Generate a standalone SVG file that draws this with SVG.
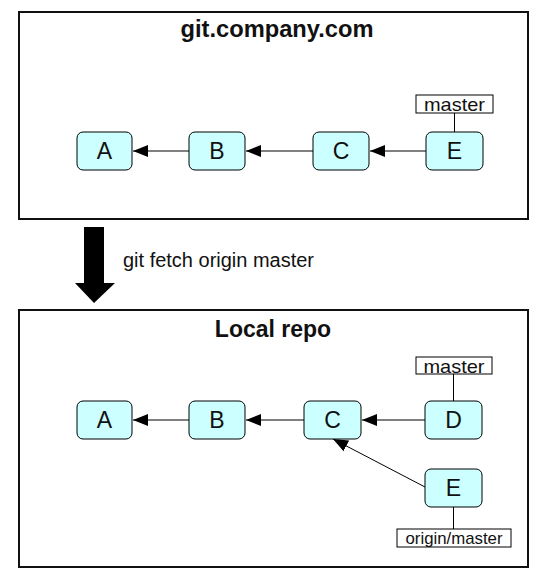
<svg xmlns="http://www.w3.org/2000/svg" width="548" height="586" viewBox="0 0 548 586">
<style>
.frame{fill:#fff;stroke:#111;stroke-width:2}
.title{font-family:"Liberation Sans",Arial,sans-serif;font-weight:bold;font-size:23px;fill:#111;text-anchor:middle}
.node rect{fill:#ccffff;stroke:#000;stroke-width:1}
.node text{font-family:"Liberation Sans",Arial,sans-serif;font-size:23px;fill:#111;text-anchor:middle}
.lbl rect{fill:#fff;stroke:#000;stroke-width:1}
.lbl text{font-family:"Liberation Sans",Arial,sans-serif;font-size:19px;fill:#111;text-anchor:middle}
.edge{stroke:#000;stroke-width:1;fill:none}
.arr{marker-end:url(#ah)}
.cmd{font-family:"Liberation Sans",Arial,sans-serif;font-size:19.5px;fill:#111}
</style>
<defs>
<marker id="ah" viewBox="0 -6 15 12" refX="15" refY="0" markerWidth="15" markerHeight="12" markerUnits="userSpaceOnUse" orient="auto">
<path d="M0,-6 L15,0 L0,6 z" fill="#000"/>
</marker>
</defs>
<rect fill="#fff" x="0" y="0" width="548" height="586"/>

<g id="remote">
<rect class="frame" x="19" y="12" width="509" height="207"/>
<text class="title" x="277" y="37" textLength="193" lengthAdjust="spacingAndGlyphs">git.company.com</text>
</g>
<g id="local">
<rect class="frame" x="19" y="310" width="509" height="257"/>
<text class="title" x="273" y="337">Local repo</text>
</g>

<g id="fetch">
<polygon points="84,227 104,227 104,283 115,283 94,303 75,283 84,283" fill="#000"/>
<text class="cmd" x="123" y="267" textLength="191" lengthAdjust="spacingAndGlyphs">git fetch origin master</text>
</g>

<g id="connectors">
<line class="edge arr" x1="189" y1="151" x2="133" y2="151"/>
<line class="edge arr" x1="313" y1="151" x2="246" y2="151"/>
<line class="edge arr" x1="426" y1="151" x2="370" y2="151"/>
<line class="edge" x1="454.5" y1="132" x2="454.5" y2="113"/>
<line class="edge arr" x1="189" y1="420" x2="133" y2="420"/>
<line class="edge arr" x1="304" y1="420" x2="246" y2="420"/>
<line class="edge arr" x1="425" y1="420" x2="362" y2="420"/>
<line class="edge arr" x1="425" y1="487" x2="333" y2="439"/>
<line class="edge" x1="453.5" y1="401" x2="453.5" y2="374"/>
<line class="edge" x1="453.5" y1="507" x2="453.5" y2="529"/>
</g>

<g id="r-A" class="node"><rect x="77" y="132" width="55" height="38" rx="6"/><text x="104.5" y="159">A</text></g>
<g id="r-B" class="node"><rect x="189" y="132" width="56" height="38" rx="6"/><text x="217" y="159">B</text></g>
<g id="r-C" class="node"><rect x="313" y="132" width="56" height="38" rx="6"/><text x="341" y="159">C</text></g>
<g id="r-E" class="node"><rect x="426" y="132" width="57" height="38" rx="6"/><text x="454.5" y="159">E</text></g>
<g id="r-master" class="lbl"><rect x="416" y="95" width="77" height="18"/><text x="454.5" y="111" textLength="61" lengthAdjust="spacingAndGlyphs">master</text></g>

<g id="l-A" class="node"><rect x="77" y="401" width="55" height="38" rx="6"/><text x="104.5" y="428">A</text></g>
<g id="l-B" class="node"><rect x="189" y="401" width="56" height="38" rx="6"/><text x="217" y="428">B</text></g>
<g id="l-C" class="node"><rect x="304" y="401" width="57" height="38" rx="6"/><text x="332.5" y="428">C</text></g>
<g id="l-D" class="node"><rect x="425" y="401" width="57" height="38" rx="6"/><text x="453.5" y="428">D</text></g>
<g id="l-E" class="node"><rect x="425" y="469" width="57" height="38" rx="6"/><text x="453.5" y="496">E</text></g>
<g id="l-master" class="lbl"><rect x="416" y="357" width="76" height="17"/><text x="454" y="373" textLength="61" lengthAdjust="spacingAndGlyphs">master</text></g>
<g id="l-origin-master" class="lbl"><rect x="397" y="529" width="114" height="18"/><text x="454" y="544" style="font-size:17px" textLength="97" lengthAdjust="spacingAndGlyphs">origin/master</text></g>
</svg>
